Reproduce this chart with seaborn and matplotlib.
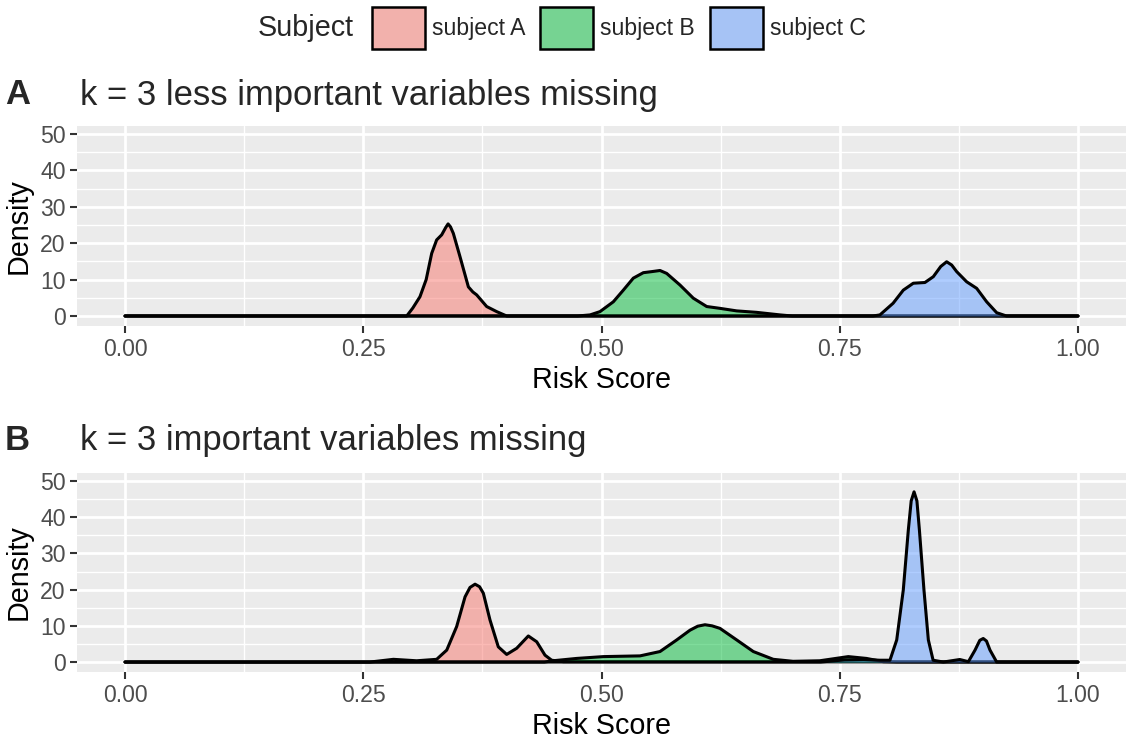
import numpy as np
import pandas as pd
import matplotlib
matplotlib.use("Agg")
import matplotlib.pyplot as plt
from matplotlib.patches import Patch
import seaborn as sns

# ---------------- data ----------------
subjects = ["subject A", "subject B", "subject C"]
panel_titles = ["k = 3 less important variables missing", "k = 3 important variables missing"]
panel_tags = ["A", "B"]
x_ticks = [0.00, 0.25, 0.50, 0.75, 1.00]
x_ticklabels = ["0.00", "0.25", "0.50", "0.75", "1.00"]
y_ticks = [0, 10, 20, 30, 40, 50]

# Panel A density curves (risk score, density)
pA_subjA_x = [0.0, 0.2956, 0.302, 0.3095, 0.316, 0.3218, 0.327, 0.3323, 0.3365, 0.339, 0.3415, 0.3445, 0.3515, 0.3603, 0.365, 0.369, 0.3795, 0.39, 0.4005, 1.0]
pA_subjA_y = [0.0, 0.0, 2.2, 5.3, 10.0, 17.2, 20.9, 22.3, 24.3, 25.3, 24.5, 22.7, 16.3, 8.0, 6.6, 5.8, 2.6, 1.2, 0.0, 0.0]
pA_subjB_x = [0.0, 0.475, 0.488, 0.4984, 0.5124, 0.5229, 0.5334, 0.5439, 0.553, 0.5614, 0.5684, 0.5824, 0.5963, 0.6104, 0.6243, 0.6419, 0.6628, 0.6873, 0.70, 1.0]
pA_subjB_y = [0.0, 0.0, 0.3, 1.2, 3.9, 7.1, 10.4, 11.9, 12.2, 12.5, 11.7, 8.5, 4.9, 2.6, 2.1, 1.4, 1.0, 0.3, 0.0, 0.0]
pA_subjC_x = [0.0, 0.785, 0.7922, 0.806, 0.8167, 0.8272, 0.8394, 0.8482, 0.856, 0.8622, 0.8675, 0.8727, 0.8832, 0.8937, 0.9042, 0.9147, 0.925, 1.0]
pA_subjC_y = [0.0, 0.0, 0.3, 3.5, 7.1, 9.0, 9.2, 10.8, 13.6, 14.9, 14.0, 12.2, 9.4, 7.6, 3.9, 0.9, 0.0, 0.0]

# Panel B density curves
pB_subjA_x = [0.0, 0.257, 0.2816, 0.306, 0.327, 0.3376, 0.348, 0.3568, 0.362, 0.3673, 0.372, 0.376, 0.383, 0.3917, 0.4005, 0.411, 0.4232, 0.432, 0.4407, 0.4477, 0.46, 1.0]
pB_subjA_y = [0.0, 0.0, 0.75, 0.35, 0.75, 3.3, 9.8, 18.0, 20.6, 21.5, 20.8, 19.0, 11.6, 4.2, 2.1, 3.8, 7.2, 5.6, 1.9, 0.5, 0.1, 0.0]
pB_subjB_x = [0.0, 0.44, 0.449, 0.474, 0.502, 0.5404, 0.5614, 0.5789, 0.5929, 0.601, 0.6086, 0.616, 0.6243, 0.6419, 0.6593, 0.6803, 0.701, 0.729, 0.759, 0.778, 0.7957, 0.81, 1.0]
pB_subjB_y = [0.0, 0.0, 0.35, 1.0, 1.5, 1.7, 2.9, 6.1, 8.8, 9.9, 10.3, 10.0, 9.3, 6.1, 2.9, 0.75, 0.2, 0.35, 1.5, 1.0, 0.1, 0.0, 0.0]
pB_subjC_x = [0.0, 0.73, 0.755, 0.775, 0.792, 0.8027, 0.8098, 0.8167, 0.822, 0.825, 0.828, 0.831, 0.8336, 0.8384, 0.843, 0.848, 0.8587, 0.876, 0.885, 0.892, 0.897, 0.9006, 0.904, 0.9077, 0.9147, 1.0]
pB_subjC_y = [0.0, 0.0, 0.6, 0.7, 0.5, 0.5, 6.1, 19.9, 36.5, 44.5, 47.0, 44.5, 36.5, 19.9, 6.1, 0.5, 0.0, 0.7, 0.1, 3.3, 6.0, 6.5, 5.8, 3.3, 0.0, 0.0]

panels = [
    [(pA_subjA_x, pA_subjA_y), (pA_subjB_x, pA_subjB_y), (pA_subjC_x, pA_subjC_y)],
    [(pB_subjA_x, pB_subjA_y), (pB_subjB_x, pB_subjB_y), (pB_subjC_x, pB_subjC_y)],
]

# ---------------- style ----------------
sns.set_theme(style="darkgrid")
plt.rcParams["font.family"] = ["Liberation Sans", "DejaVu Sans"]
palette = ["#F8766D", "#00BA38", "#619CFF"]
ALPHA = 0.5
BG = "#EBEBEB"

fig = plt.figure(figsize=(11.28, 7.43), dpi=100)
fig.patch.set_facecolor("white")

W, H = 1128.0, 743.0
left = 77.4 / W
width = 1048.2 / W
axes_boxes = [
    (left, 1 - 326 / H, width, 200 / H),
    (left, 1 - 672 / H, width, 199 / H),
]
title_y = [95, 440]

TICK_FS = 16.6
LAB_FS = 20.7
TITLE_FS = 24.9

for i, box in enumerate(axes_boxes):
    ax = fig.add_axes(box)
    ax.set_facecolor(BG)
    for j, (xs, ys) in enumerate(panels[i]):
        df = pd.DataFrame({"Risk Score": xs, "Density": ys})
        ax.fill_between(df["Risk Score"], df["Density"], 0, color=palette[j], alpha=ALPHA, lw=0, zorder=2 + j)
        sns.lineplot(data=df, x="Risk Score", y="Density", color="black", lw=2.2,
                     sort=False, estimator=None, ax=ax, zorder=2.5 + j,
                     solid_joinstyle="round", solid_capstyle="round")
    ax.set_xlim(-0.05, 1.05)
    ax.set_ylim(-2.75, 52.2)
    ax.set_xticks(x_ticks)
    ax.set_xticklabels(x_ticklabels)
    ax.set_yticks(y_ticks)
    ax.set_xticks([0.125, 0.375, 0.625, 0.875], minor=True)
    ax.set_yticks([5, 15, 25, 35, 45], minor=True)
    ax.grid(which="major", color="white", lw=2.0)
    ax.grid(which="minor", color="white", lw=1.0)
    ax.set_axisbelow(True)
    for s in ax.spines.values():
        s.set_visible(False)
    ax.tick_params(axis="both", which="major", length=5, width=1.5, color="#333333",
                   labelsize=TICK_FS, labelcolor="#4D4D4D", pad=3.5, bottom=True, left=True)
    ax.tick_params(axis="both", which="minor", length=0)
    ax.set_xlabel("Risk Score", fontsize=LAB_FS, color="black", labelpad=4)
    ax.set_ylabel("Density", fontsize=LAB_FS, color="black", labelpad=5)
    fig.text(5 / W, 1 - title_y[i] / H, panel_tags[i], fontsize=TITLE_FS, fontweight="bold",
             ha="left", va="center")
    fig.text(80 / W, 1 - title_y[i] / H, panel_titles[i], fontsize=TITLE_FS,
             ha="left", va="center")

# legend
handles = [Patch(edgecolor="black", lw=1.8) for c in palette]
for h, c in zip(handles, palette):
    rgb = np.array(matplotlib.colors.to_rgb(c))
    bg = np.array(matplotlib.colors.to_rgb(BG))
    h.set_facecolor(ALPHA * rgb + (1 - ALPHA) * bg)
fig.text(258 / W, 1 - 28 / H, "Subject", fontsize=LAB_FS, ha="left", va="center")
fig.legend(handles, subjects, loc="center left", bbox_to_anchor=(372 / W, 1 - 28 / H),
           ncol=3, frameon=False, fontsize=16.6, handlelength=2.3, handleheight=2.4,
           handletextpad=0.3, columnspacing=0.65, borderaxespad=0, borderpad=0)

fig.savefig("out.png", dpi=100, facecolor="white")
